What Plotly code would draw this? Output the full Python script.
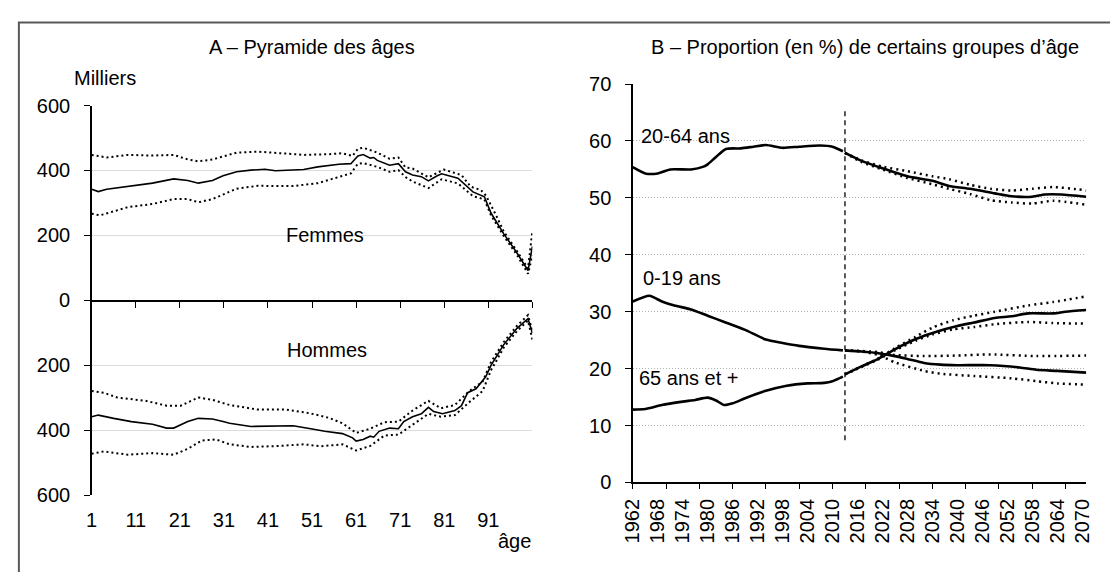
import plotly.graph_objects as go

W, H = 1110, 572

# ---------------- Panel A data (thousands) ----------------
F_AGE = [1, 2.5, 4.4, 9.2, 14.8, 19.6, 22.8, 25.2, 28.4, 30.8, 33.9, 37.1, 40.3, 42.7, 46.7, 49.1,
         52.3, 57.1, 59.8, 61.4, 62.6, 64.2, 65.0, 65.8, 68.6, 70.6, 72.2, 73.8, 75.8, 77.4, 79.4,
         80.4, 84.1, 87.5, 90.1, 91.6, 94.5, 97.5, 100, 101]
F_MID = [342, 335, 342, 351, 361, 374, 369, 361, 369, 384, 396, 401, 404, 399, 401, 403,
         411, 419, 421, 445, 449, 438, 440, 431, 416, 421, 396, 386, 381, 368, 384,
         390, 376, 334, 319, 269, 205, 146, 92, 166]

F_HI_AGE = [1, 4.4, 9.2, 14.8, 19.6, 22.8, 25.2, 28.4, 33.9, 38.7, 45.1, 49.1, 54.7, 57.9, 60.2,
            61.4, 62.6, 65.8, 68.6, 70.6, 72.2, 73.8, 77.4, 80.9, 84.9, 87.0, 89.3, 90.5,
            92.9, 94.5, 97.5, 100, 101]
F_HI = [448, 440, 448, 446, 448, 434, 428, 434, 455, 458, 452, 448, 450, 453, 445,
        467, 470, 455, 436, 440, 409, 406, 379, 403, 386, 350, 340, 322,
        258, 212, 152, 98, 215]

F_LO_AGE = [1, 2.9, 9.2, 14.8, 19.6, 22.8, 25.2, 28.4, 33.9, 38.7, 42.7, 46.7, 52.3, 57.1, 59.8,
            61.4, 62.6, 65.8, 68.6, 70.6, 72.2, 73.8, 77.4, 80.4, 84.1, 87.5, 90.1, 91.6,
            94.5, 97.5, 100, 101]
F_LO = [267, 262, 287, 297, 312, 312, 302, 312, 344, 353, 352, 352, 361, 381, 391,
        421, 423, 411, 396, 401, 380, 366, 346, 373, 360, 321, 311, 262,
        198, 140, 82, 139]

H_AGE = [1, 2.5, 6.0, 10.0, 14.8, 18.0, 19.6, 22.8, 25.2, 28.4, 30.8, 32.3, 37.1, 41.9, 46.7,
         50.7, 53.9, 57.9, 60.2, 61.0, 62.6, 64.2, 65.0, 66.2, 68.6, 70.6, 71.8, 73.8, 75.8,
         77.4, 78.6, 80.6, 83.4, 84.9, 86.3, 88.2, 90.4, 91.6, 94.5, 97.5, 100, 101]
H_MID = [358, 353, 363, 373, 381, 393, 393, 373, 363, 365, 373, 378, 388, 388, 386,
         395, 403, 410, 423, 433, 428, 418, 421, 403, 393, 395, 373, 358, 349,
         329, 342, 349, 339, 324, 284, 272, 235, 200, 136, 86, 56, 101]

H_HI_AGE = [1, 3.7, 6.8, 13.2, 18.0, 21.2, 25.2, 28.4, 32.3, 38.7, 45.1, 50.7, 54.7, 57.9, 61.0,
            64.2, 67.4, 70.6, 73.8, 77.4, 80.2, 83.4, 86.6, 89.7, 91.6, 94.5, 97.5, 100, 101]
H_HI = [279, 284, 299, 309, 324, 324, 299, 306, 322, 336, 336, 348, 361, 378, 408,
        395, 375, 373, 339, 309, 332, 322, 280, 250, 190, 128, 78, 45, 95]

H_LO_AGE = [1, 3.7, 9.2, 14.8, 19.6, 22.8, 26.0, 29.2, 32.3, 37.1, 43.5, 49.1, 53.1, 57.9, 61.0,
            64.2, 67.4, 70.6, 73.8, 77.4, 80.2, 83.4, 86.6, 89.7, 91.6, 94.5, 97.5, 100, 101]
H_LO = [472, 465, 475, 470, 475, 457, 431, 428, 443, 451, 448, 443, 449, 443, 462,
        448, 416, 413, 383, 349, 358, 353, 314, 279, 215, 145, 94, 62, 121]

AGE_TICKS = [1, 11, 21, 31, 41, 51, 61, 71, 81, 91]
AGE_TICK_MARKS = [1, 11, 21, 31, 41, 51, 61, 71, 81, 91, 101]
POP_TICKS = [0, 200, 400, 600]

# ---------------- Panel B data (%) ----------------
A2064_HIST_YR = [1962, 1965, 1968, 1971, 1976, 1979, 1980, 1982, 1984.4, 1988, 1991, 1994, 1998, 2002, 2007, 2010, 2012.5]
A2064_HIST = [55.4, 54.3, 54.3, 55.0, 55.0, 55.5, 55.9, 57.2, 58.6, 58.7, 59.0, 59.3, 58.8, 59.0, 59.2, 59.0, 58.2]
A2064_PROJ_YR = [2013, 2017, 2022, 2028, 2034, 2038, 2043, 2049, 2053, 2058, 2061, 2065, 2071]
A2064_PROJ = [57.9, 56.5, 55.2, 53.8, 53.0, 52.1, 51.6, 50.8, 50.3, 50.2, 50.6, 50.6, 50.2]
A2064_HI_YR = [2013, 2017, 2022, 2028, 2034, 2038, 2043, 2048, 2053, 2058, 2063, 2069, 2071]
A2064_HI = [57.9, 56.6, 55.5, 54.7, 53.8, 53.3, 52.3, 51.6, 51.3, 51.6, 51.9, 51.5, 51.3]
A2064_LO_YR = [2013, 2017, 2022, 2028, 2034, 2038, 2043, 2048, 2053, 2058, 2063, 2071]
A2064_LO = [57.9, 56.3, 55.0, 53.5, 52.4, 51.6, 50.7, 49.6, 49.2, 49.0, 49.5, 48.8]

A019_HIST_YR = [1962, 1966, 1969, 1972, 1976, 1980, 1984, 1989, 1994, 1998, 2002, 2008, 2012.5]
A019_HIST = [31.8, 32.8, 31.8, 31.1, 30.4, 29.3, 28.2, 26.8, 25.1, 24.5, 24.0, 23.5, 23.2]
A019_PROJ_YR = [2013, 2017, 2021, 2025, 2028, 2032, 2036, 2040, 2048, 2055, 2059, 2064, 2071]
A019_PROJ = [23.2, 23.0, 22.7, 22.2, 21.7, 21.0, 20.7, 20.6, 20.6, 20.2, 19.8, 19.6, 19.3]
A019_HI_YR = [2013, 2017, 2021, 2025, 2032, 2040, 2048, 2059, 2071]
A019_HI = [23.2, 23.1, 22.9, 22.4, 22.2, 22.3, 22.5, 22.2, 22.3]
A019_LO_YR = [2013, 2017, 2021, 2025, 2032, 2036, 2044, 2053, 2059, 2064, 2071]
A019_LO = [23.2, 23.0, 22.4, 21.1, 19.6, 19.1, 18.7, 18.3, 17.8, 17.4, 17.2]

A65_HIST_YR = [1962, 1965, 1969, 1974, 1977, 1980, 1982, 1984, 1986, 1989, 1994, 1999, 2004, 2008, 2010, 2012.5]
A65_HIST = [12.8, 12.9, 13.6, 14.2, 14.5, 14.9, 14.4, 13.6, 13.9, 14.8, 16.1, 17.0, 17.4, 17.5, 17.8, 18.6]
A65_PROJ_YR = [2013, 2017, 2021, 2025, 2030, 2035, 2040, 2044, 2049, 2053, 2057, 2063, 2066, 2071]
A65_PROJ = [19.0, 20.4, 21.7, 23.4, 25.2, 26.5, 27.5, 28.1, 28.9, 29.2, 29.7, 29.7, 30.0, 30.3]
A65_HI_YR = [2013, 2017, 2021, 2025, 2030, 2034, 2039, 2044, 2049, 2057, 2063, 2071]
A65_HI = [19.0, 20.4, 21.8, 23.6, 25.6, 27.2, 28.5, 29.3, 30.0, 31.1, 31.7, 32.7]
A65_LO_YR = [2013, 2017, 2021, 2025, 2030, 2034, 2039, 2044, 2049, 2057, 2063, 2071]
A65_LO = [19.0, 20.3, 21.6, 23.2, 24.9, 26.0, 26.9, 27.3, 27.8, 28.2, 28.0, 27.9]

PROJ_START = [2013, 2013]
PROJ_START_Y = [7.4, 65.8]

YEAR_LABELS = list(range(1962, 2071, 6))
YEAR_TICK_MARKS = list(range(1962, 2071, 8))
PCT_TICKS = [0, 10, 20, 30, 40, 50, 60, 70]

# ---------------- figure ----------------
FONT = "Liberation Sans, Arial, sans-serif"
FS = 20


def px_x(p):
    return p / W


def px_y(p):
    return 1 - p / H


fig = go.Figure()

solidA = dict(color="black", width=1.6)
dotA = dict(color="black", width=2, dash="2px,3px")


def add(x, y, xa, ya, line, shape="linear"):
    ln = dict(line)
    ln["shape"] = shape
    if shape == "spline":
        ln["smoothing"] = 0.6
    fig.add_trace(go.Scatter(x=x, y=y, mode="lines", line=ln, xaxis=xa, yaxis=ya,
                             hoverinfo="skip", showlegend=False))


# Panel A top (femmes)
add(F_AGE, F_MID, "x", "y", solidA)
add(F_HI_AGE, F_HI, "x", "y", dotA)
add(F_LO_AGE, F_LO, "x", "y", dotA)
# Panel A bottom (hommes)
add(H_AGE, H_MID, "x2", "y2", solidA)
add(H_HI_AGE, H_HI, "x2", "y2", dotA)
add(H_LO_AGE, H_LO, "x2", "y2", dotA)

# Panel B
solidB = dict(color="black", width=2.6)
dotB = dict(color="black", width=2.5, dash="2px,4px")
for xs, ys in [(A2064_HIST_YR, A2064_HIST), (A019_HIST_YR, A019_HIST), (A65_HIST_YR, A65_HIST)]:
    add(xs, ys, "x3", "y3", solidB, "spline")
for xs, ys in [(A2064_HI_YR, A2064_HI), (A2064_LO_YR, A2064_LO), (A019_HI_YR, A019_HI),
               (A019_LO_YR, A019_LO), (A65_HI_YR, A65_HI), (A65_LO_YR, A65_LO)]:
    add(xs, ys, "x3", "y3", dotB, "spline")
for xs, ys in [(A2064_PROJ_YR, A2064_PROJ), (A019_PROJ_YR, A019_PROJ), (A65_PROJ_YR, A65_PROJ)]:
    add(xs, ys, "x3", "y3", solidB, "spline")
add(PROJ_START, PROJ_START_Y, "x3", "y3", dict(color="black", width=1.3, dash="5px,4px"))
# invisible trace for the tick-mark overlay axis
fig.add_trace(go.Scatter(x=[1962], y=[0], mode="markers", marker=dict(opacity=0),
                         xaxis="x4", yaxis="y3", hoverinfo="skip", showlegend=False))

xdomA = [px_x(81), px_x(529)]
ydomA_top = [px_y(301), px_y(98.3)]
ydomA_bot = [px_y(503.7), px_y(301)]
xdomB = [px_x(631), px_x(1092)]
ydomB = [px_y(490.3), px_y(76)]

axis_common = dict(linecolor="black", linewidth=1.5, zeroline=False,
                   tickfont=dict(family=FONT, size=FS, color="black"), tickcolor="black")

fig.update_layout(
    width=W, height=H, margin=dict(l=0, r=0, t=0, b=0),
    paper_bgcolor="white", plot_bgcolor="rgba(0,0,0,0)",
    font=dict(family=FONT, size=FS, color="black"),
    showlegend=False, hovermode=False,
    xaxis=dict(domain=xdomA, anchor="y", range=[1, 101], showline=True, ticks="outside",
               ticklen=6, tickvals=AGE_TICK_MARKS, showticklabels=False, showgrid=False,
               **axis_common),
    yaxis=dict(domain=ydomA_top, anchor="x", range=[0, 600], tickvals=POP_TICKS,
               showline=True, ticks="outside", ticklen=6, ticklabelstandoff=10,
               showgrid=True, gridcolor="#dcdcdc", gridwidth=1, **axis_common),
    xaxis2=dict(domain=xdomA, anchor="y2", range=[1, 101], showline=False, ticks="",
                tickvals=AGE_TICKS, ticktext=[str(a) for a in AGE_TICKS], showgrid=False,
                ticklabelstandoff=11, **axis_common),
    yaxis2=dict(domain=ydomA_bot, anchor="x2", range=[600, 0], tickvals=[200, 400, 600],
                showline=True, ticks="outside", ticklen=6, ticklabelstandoff=10,
                showgrid=True, gridcolor="#dcdcdc", gridwidth=1, **axis_common),
    xaxis3=dict(domain=xdomB, anchor="y3", range=[1962, 2071], showline=True, ticks="",
                tickvals=YEAR_LABELS, ticktext=[str(v) for v in YEAR_LABELS], tickangle=-90,
                showgrid=False, ticklabelstandoff=7, **axis_common),
    xaxis4=dict(domain=xdomB, anchor="y3", overlaying="x3", side="bottom", range=[1962, 2071],
                showline=False, ticks="outside", ticklen=6, tickvals=YEAR_TICK_MARKS,
                showticklabels=False, showgrid=False, **axis_common),
    yaxis3=dict(domain=ydomB, anchor="x3", range=[0, 70], tickvals=PCT_TICKS,
                showline=True, ticks="outside", ticklen=6, ticklabelstandoff=10,
                showgrid=True, gridcolor="#b4b4b4", gridwidth=1, griddash="1px,2px",
                **axis_common),
)

ann = [
    ("A – Pyramide des âges", 305, 37),
    ("B – Proportion (en %) de certains groupes d’âge", 867, 37),
    ("Milliers", 95, 70),
    ("Femmes", 318, 233),
    ("Hommes", 320, 353),
    ("âge", 511, 551),
    ("20-64 ans", 685, 130),
    ("0-19 ans", 681, 278),
    ("65 ans et +", 688, 382),
]
for text, x, y in ann:
    fig.add_annotation(text=text, x=px_x(x), y=px_y(y), xref="paper", yref="paper",
                       showarrow=False, xanchor="center", yanchor="middle",
                       font=dict(family=FONT, size=FS, color="black"))

# outer frame (only top and left edges fall inside the picture)
fig.add_shape(type="rect", xref="paper", yref="paper", x0=px_x(7), x1=1.05,
              y0=-0.05, y1=px_y(12), line=dict(color="#595959", width=2), layer="above")

fig.write_html(
    "out.html",
    config={"displayModeBar": False, "staticPlot": True},
    post_script="document.body.style.margin='0';document.body.style.overflow='hidden';",
)
